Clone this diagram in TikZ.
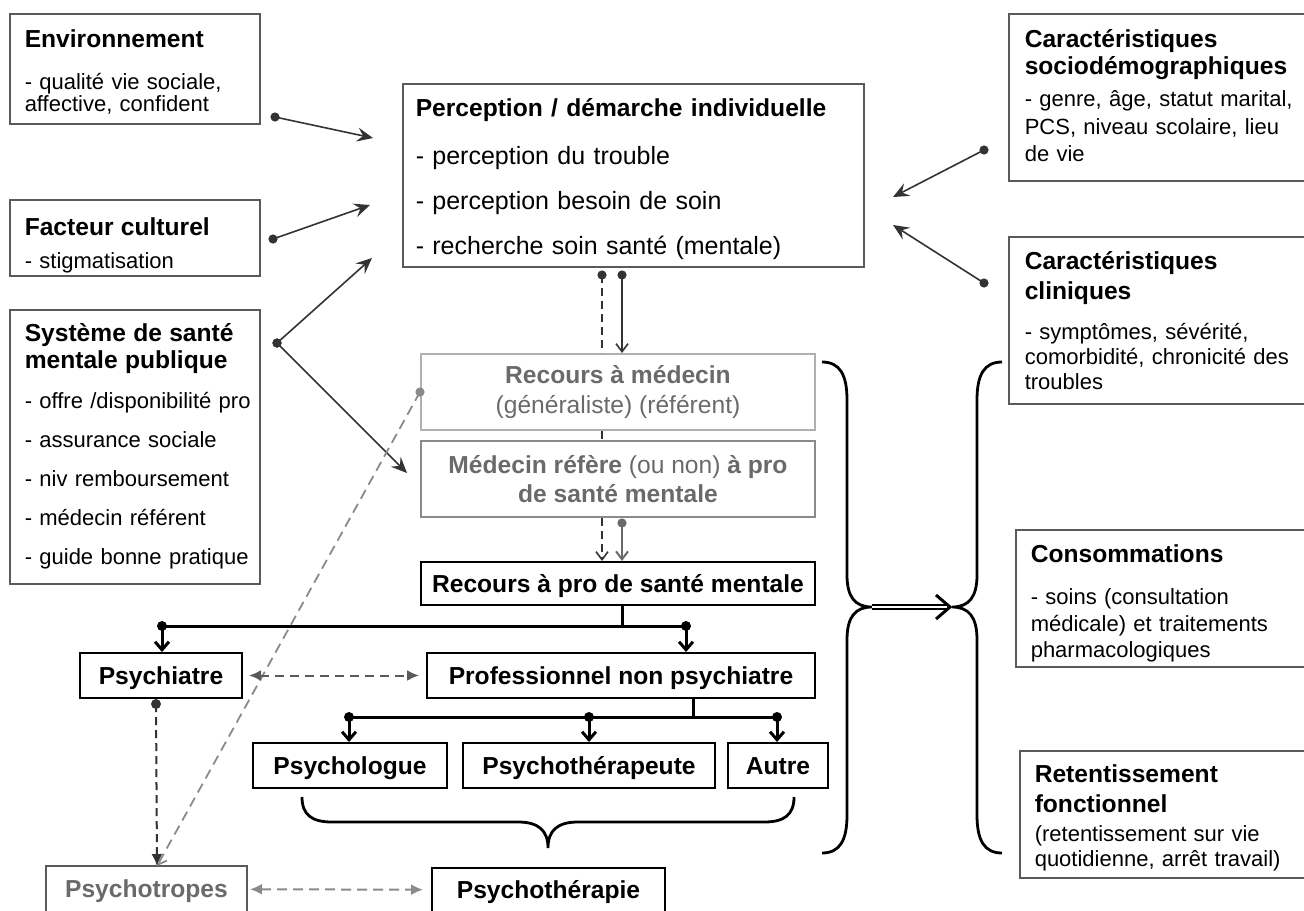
\documentclass[tikz,border=0pt]{standalone}
\usepackage{fontspec}
\setmainfont{Liberation Sans}
\usetikzlibrary{calc,positioning,arrows.meta}
\definecolor{boxgray}{HTML}{5A5A5A}
\definecolor{linegray}{HTML}{333333}
\definecolor{palegray}{HTML}{B0B0B0}
\definecolor{midgray}{HTML}{8A8A8A}
\definecolor{textgray}{HTML}{6A6A6A}
\newcommand{\titfont}{\fontsize{12.3}{0}\selectfont\bfseries}
\newcommand{\txtfont}{\fontsize{11}{0}\selectfont\lineskiplimit=-50pt\hyphenpenalty=10000\relax}
\newcommand{\bigtxtfont}{\fontsize{12.5}{0}\selectfont\lineskiplimit=-50pt\relax}
\tikzset{>=Stealth}

\begin{document}
\begin{tikzpicture}[x=0.5pt,y=-0.5pt,
    infobox/.style={draw=boxgray, line width=0.75pt, anchor=north west, align=left,
      inner xsep=7.5pt, inner ysep=0pt, font=\txtfont},
    stepbox/.style={draw=black, line width=1pt, font=\titfont, align=center,
      inner sep=0pt, minimum height=22.5pt},
    onerow/.style={stepbox, text height=8.8pt, text depth=0pt},
    inflow/.style={draw=linegray, line width=0.8pt, -{Stealth[length=8pt,width=7pt,inset=3pt]}},
    tree/.style={draw=black, line width=1.5pt},
    treearrow/.style={tree, -{Straight Barb[length=4pt,width=7pt]}},
    darkdash/.style={draw=linegray, line width=0.8pt, dash pattern=on 4pt off 2.5pt},
    greydash/.style={draw=midgray, line width=0.9pt, dash pattern=on 5pt off 3pt},
    curly/.style={draw=black, line width=1.4pt}
  ]
  \useasboundingbox (0,0) rectangle (1304,910);

  % boites de facteurs
  \node[infobox, text width=110pt, text height=17pt, text depth=38pt] (env) at (9,13)
    {{\titfont Environnement}\\[21pt]
     - qualité vie sociale,\\[11pt]
     affective, confident};
  \node[infobox, text width=110pt, text height=18pt, text depth=20pt] (fac) at (9,199)
    {{\titfont Facteur culturel}\\[16.5pt]
     - stigmatisation};
  \node[infobox, text width=110pt, text height=16pt, text depth=121pt] (sys) at (9,309)
    {{\titfont Système de santé}\\[13.5pt]
     {\titfont mentale publique}\\[20pt]
     \mbox{- offre /disponibilité pro}\\[19.5pt]
     - assurance sociale\\[19.5pt]
     - niv remboursement\\[19.5pt]
     - médecin référent\\[19.5pt]
     \mbox{- guide bonne pratique}};
  \node[infobox, inner xsep=6.5pt, text width=217.5pt, text height=16.5pt, text depth=75pt, font=\bigtxtfont] (perc) at (402,83)
    {{\titfont Perception / démarche individuelle}\\[24pt]
     - perception du trouble\\[22.5pt]
     - perception besoin de soin\\[22.5pt]
     - recherche soin santé (mentale)};
  \node[infobox, inner xsep=8pt, text width=142pt, text height=17pt, text depth=66.5pt] (socio) at (1008,13)
    {{\titfont Caractéristiques}\\[13.5pt]
     {\titfont sociodémographiques}\\[16pt]
     - genre, âge, statut marital,\\[13.75pt]
     PCS, niveau scolaire, lieu\\[13.75pt]
     de vie};
  \node[infobox, inner xsep=8pt, text width=142pt, text height=16.5pt, text depth=67pt] (clin) at (1008,236)
    {{\titfont Caractéristiques}\\[15pt]
     {\titfont cliniques}\\[20pt]
     - symptômes, sévérité,\\[12.5pt]
     comorbidité, chronicité des\\[12.5pt]
     troubles};
  \node[infobox, text width=150pt, text height=16.5pt, text depth=52pt] (cons) at (1015,529)
    {{\titfont Consommations}\\[21pt]
     - soins (consultation\\[13.25pt]
     médicale) et traitements\\[13.25pt]
     pharmacologiques};
  \node[infobox, text width=150pt, text height=16pt, text depth=47.5pt] (ret) at (1019,750)
    {{\titfont Retentissement}\\[15pt]
     {\titfont fonctionnel}\\[14.5pt]
     (retentissement sur vie\\[12.5pt]
     quotidienne, arrêt travail)};

  % parcours de soin
  \node[stepbox, draw=palegray, text=textgray, minimum width=197pt, minimum height=38pt,
    font=\fontsize{12.3}{15}\selectfont] (recmed) at (618,392)
    {\textbf{Recours à médecin}\\(généraliste) (référent)};
  \node[stepbox, draw=midgray, line width=1.2pt, text=textgray, minimum width=197pt, minimum height=38pt,
    font=\fontsize{12.3}{15}\selectfont] (medref) at (618,479)
    {\textbf{Médecin réfère} (ou non) \textbf{à pro}\\[-0.5pt]\textbf{de santé mentale}};
  \node[onerow, minimum width=197pt, minimum height=21.5pt] (recpro) at (618,583.5) {Recours à pro de santé mentale};
  \node[onerow, minimum width=81pt] (psychiatre) at (161,675.5) {Psychiatre};
  \node[onerow, minimum width=194pt] (prof) at (621,675.5) {Professionnel non psychiatre};
  \node[onerow, minimum width=97pt] (psycho) at (350,765.5) {Psychologue};
  \node[onerow, minimum width=126pt] (psythp) at (589,765.5) {Psychothérapeute};
  \node[onerow, minimum width=50pt] (autre) at (778,765.5) {Autre};
  \node[onerow, draw=boxgray, text=textgray, minimum width=100.5pt, minimum height=23pt] (ptropes) at (146.5,889) {Psychotropes};
  \node[onerow, minimum width=116.5pt, minimum height=22pt] (pthpie) at (548.5,890) {Psychothérapie};

  % points de depart
  \coordinate (envdot) at (275,117);   \coordinate (envtip) at (373,138);
  \coordinate (facdot) at (273,239);   \coordinate (factip) at (370,205);
  \coordinate (sysdot) at (277,343);   \coordinate (systip) at (372,258);
  \coordinate (sysref) at (407,473);
  \coordinate (sociodot) at (984,150); \coordinate (sociotip) at (893,197);
  \coordinate (clindot) at (984,283);  \coordinate (clintip) at (893,225);
  \coordinate (pdash) at (602,275);    \coordinate (psolid) at (622,275);
  \coordinate (refdot) at (622,523);
  \coordinate (fork1) at (622,626);
  \coordinate (f1l) at (162,626);      \coordinate (f1r) at (686,626);
  \coordinate (fork2) at (693,717);
  \coordinate (f2a) at (349,717);      \coordinate (f2b) at (589,717);
  \coordinate (f2c) at (777,717);
  \coordinate (psydot) at (156,704);   \coordinate (ptin) at (157,866);

  % influences
  \foreach \a/\b in {envdot/envtip, facdot/factip, sysdot/systip, sysdot/sysref,
                     sociodot/sociotip, clindot/clintip} {
    \draw[inflow] (\a) -- (\b);
    \fill[linegray] (\a) circle (2.3pt);
  }

  % perception -> medecin -> pro
  \draw[darkdash] (pdash) -- (pdash |- recmed.north);
  \draw[darkdash] (pdash |- recmed.south) -- (pdash |- medref.north);
  \draw[darkdash, -{Straight Barb[length=4pt,width=6pt]}] (pdash |- medref.south) -- (pdash |- recpro.north);
  \fill[linegray] (pdash) circle (2.3pt);
  \draw[draw=linegray, line width=0.8pt, -{Straight Barb[length=4pt,width=6pt]}] (psolid) -- (psolid |- recmed.north);
  \fill[linegray] (psolid) circle (2.3pt);
  \draw[draw=textgray, line width=1pt, -{Straight Barb[length=4pt,width=6pt]}] (refdot) -- (refdot |- recpro.north);
  \fill[textgray] (refdot) circle (2.3pt);
  \draw[greydash, -{Straight Barb[length=4pt,width=6pt]}] (recmed.west) -- (ptin);
  \fill[midgray] (recmed.west) circle (2.3pt);

  % arborescence
  \draw[tree] (recpro.south -| fork1) -- (fork1);
  \draw[tree] (f1l) -- (f1r);
  \draw[tree] (prof.south -| fork2) -- (fork2);
  \draw[tree] (f2a) -- (f2c);
  \foreach \p/\n in {f1l/psychiatre, f1r/prof, f2a/psycho, f2b/psythp, f2c/autre} {
    \draw[treearrow] (\p) -- (\p |- \n.north);
    \fill (\p) circle (2.5pt);
  }

  % liens pointilles
  \draw[draw=boxgray, line width=1pt, dash pattern=on 4.5pt off 3pt,
    {Latex[length=6pt,width=5.5pt]}-{Latex[length=6pt,width=5.5pt]}, shorten <=3pt, shorten >=3.5pt]
    (psychiatre) -- (prof);
  \draw[darkdash, line width=1pt, -{Latex[length=6pt,width=5.5pt]}] (psydot) -- (ptin);
  \fill[linegray] (psydot) circle (2.5pt);
  \draw[greydash, line width=1pt, {Latex[length=6pt,width=5.5pt]}-{Latex[length=6pt,width=5.5pt]}, shorten <=1pt, shorten >=4pt]
    (ptropes) -- (pthpie);

  % accolades
  \draw[curly] (302,797) .. controls (302,815) and (312,822) .. (332,822) -- (518,822)
    .. controls (538,822) and (548,830) .. (548,848)
    .. controls (548,830) and (558,822) .. (578,822) -- (764,822)
    .. controls (784,822) and (794,815) .. (794,797);
  \draw[curly] (822,362) .. controls (840,362) and (847,375) .. (847,400) -- (847,575)
    .. controls (847,597) and (855,607) .. (872,607)
    .. controls (855,607) and (847,617) .. (847,640) -- (847,815)
    .. controls (847,840) and (840,853) .. (822,853);
  \draw[curly] (1002,362) .. controls (984,362) and (977,375) .. (977,400) -- (977,575)
    .. controls (977,597) and (969,607) .. (952,607)
    .. controls (969,607) and (977,617) .. (977,640) -- (977,815)
    .. controls (977,840) and (984,853) .. (1002,853);
  \coordinate (bracel) at (872,607);
  \coordinate (bracer) at (950,607);
  \draw[line width=0.7pt, double=white, double distance=1.3pt] (bracel) -- ($(bracer)+(-3,0)$);
  \draw[line width=1.5pt] ($(bracer)+(-14,-12)$) -- (bracer) -- ($(bracer)+(-14,12)$);
\end{tikzpicture}
\end{document}
